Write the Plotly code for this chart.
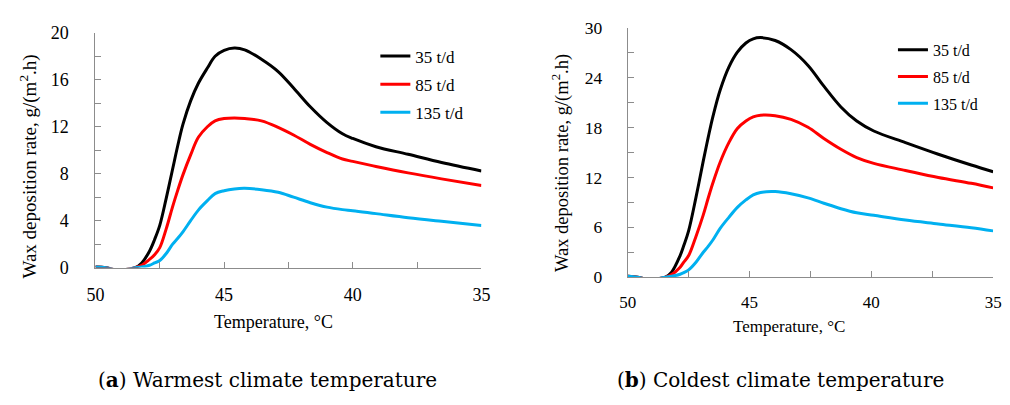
import plotly.graph_objects as go

# ---------------- data ----------------
T_left = [50.0, 49.6, 49.3, 48.8, 48.45, 48.2, 47.9, 47.7, 47.5, 47.25, 47.0, 46.8, 46.6, 46.3,
          46.0, 45.65, 45.35, 45.0, 44.6, 44.2, 43.55, 42.9, 42.3, 41.65, 41.0, 40.4, 40.0,
          39.1, 37.85, 36.55, 35.0]
left_35 = [0.05, 0.0, -0.15, -0.15, 0.0, 0.4, 1.4, 2.4, 3.6, 5.9, 8.4, 10.4, 12.2, 14.2,
           15.7, 17.0, 18.0, 18.5, 18.7, 18.55, 17.75, 16.7, 15.3, 13.7, 12.35, 11.4, 11.0,
           10.3, 9.65, 8.95, 8.23]
left_85 = [0.05, 0.0, -0.15, -0.15, 0.0, 0.2, 0.7, 1.1, 1.7, 3.3, 5.2, 6.6, 7.9, 9.6,
           11.1, 12.0, 12.5, 12.7, 12.75, 12.7, 12.5, 11.95, 11.3, 10.5, 9.8, 9.25, 9.05,
           8.62, 8.07, 7.56, 7.0]
left_135 = [0.05, 0.0, -0.15, -0.15, 0.0, 0.05, 0.2, 0.4, 0.6, 1.2, 2.0, 2.5, 3.05, 4.0,
            4.9, 5.7, 6.3, 6.55, 6.7, 6.75, 6.64, 6.42, 6.0, 5.53, 5.15, 4.94, 4.85,
            4.6, 4.25, 3.94, 3.59]

T_right = [50.0, 49.6, 49.3, 48.8, 48.45, 48.2, 47.85, 47.7, 47.5, 47.2, 46.9, 46.7, 46.5, 46.2,
           45.85, 45.5, 45.15, 44.85, 44.55, 43.95, 43.3, 42.6, 41.95, 41.25, 40.6, 39.9,
           38.6, 37.25, 35.9, 35.0]
right_35 = [0.1, 0.0, -0.2, -0.2, 0.0, 0.6, 2.6, 3.8, 5.6, 9.6, 14.0, 16.8, 19.4, 22.6,
            25.3, 27.1, 28.2, 28.7, 28.85, 28.5, 27.4, 25.5, 23.0, 20.5, 18.8, 17.6,
            16.2, 14.8, 13.5, 12.7]
right_85 = [0.1, 0.0, -0.2, -0.2, 0.0, 0.3, 1.2, 1.8, 2.6, 4.9, 7.5, 9.5, 11.4, 13.9,
            16.2, 17.9, 18.8, 19.3, 19.5, 19.45, 19.0, 18.05, 16.7, 15.4, 14.4, 13.7,
            12.85, 12.0, 11.3, 10.75]
right_135 = [0.1, 0.0, -0.2, -0.2, 0.0, 0.1, 0.35, 0.55, 0.88, 1.8, 3.0, 3.7, 4.5, 5.9,
             7.2, 8.4, 9.3, 9.9, 10.2, 10.3, 10.04, 9.54, 8.9, 8.24, 7.75, 7.44,
             6.87, 6.41, 5.95, 5.57]

series_names = ["35 t/d", "85 t/d", "135 t/d"]
series_colors = ["#000000", "#FF0000", "#00B0F0"]

x_major = [50, 45, 40, 35]
x_minor = [47.5, 42.5, 37.5]
yl_major = [0, 4, 8, 12, 16, 20]
yl_minor = [2, 6, 10, 14, 18]
yr_major = [0, 6, 12, 18, 24, 30]
yr_minor = [3, 9, 15, 21, 27]

x_title = "Temperature, °C"
y_title = "Wax deposition rate, g/(m<sup>2</sup>.h)"
caption_a = "(<b>a</b>) Warmest climate temperature"
caption_b = "(<b>b</b>) Coldest climate temperature"

W, H = 1010, 405
FONT = "Liberation Serif, Times New Roman, Tinos, serif"
CAP_FONT = "DejaVu Serif"
AX = "#8c8c8c"

fig = go.Figure()

left_vals = [left_35, left_85, left_135]
right_vals = [right_35, right_85, right_135]
for i in range(3):
    fig.add_trace(go.Scatter(x=T_left, y=left_vals[i], mode="lines", name=series_names[i],
                             line=dict(color=series_colors[i], width=3, shape="spline", smoothing=1.0),
                             xaxis="x", yaxis="y", legend="legend", legendgroup="l%d" % i))
for i in range(3):
    fig.add_trace(go.Scatter(x=T_right, y=right_vals[i], mode="lines", name=series_names[i],
                             line=dict(color=series_colors[i], width=3, shape="spline", smoothing=1.0),
                             xaxis="x2", yaxis="y2", legend="legend2", legendgroup="r%d" % i))

def minor(vals):
    return dict(tickvals=vals, ticks="inside", ticklen=6, tickcolor=AX, showgrid=False)

def xaxis(domain, anchor, size, standoff):
    return dict(domain=domain, anchor=anchor, range=[50, 35], tickvals=x_major,
                minor=minor(x_minor),
                showline=True, linecolor=AX, linewidth=1, ticks="inside", ticklen=6, tickcolor=AX,
                showgrid=False, zeroline=False, tickfont=dict(family=FONT, size=size, color="#000"),
                ticklabelstandoff=standoff)

def yaxis(domain, anchor, rng, major, mnr, size, standoff):
    return dict(domain=domain, anchor=anchor, range=rng, tickvals=major, minor=minor(mnr),
                showline=True, linecolor=AX, linewidth=1, ticks="inside", ticklen=6, tickcolor=AX,
                showgrid=False, zeroline=False, tickfont=dict(family=FONT, size=size, color="#000"),
                ticklabelstandoff=standoff)

fig.update_layout(
    width=W, height=H, margin=dict(l=0, r=0, t=0, b=0),
    paper_bgcolor="white", plot_bgcolor="white",
    font=dict(family=FONT, color="#000"),
    xaxis=xaxis([88 / W, 481 / W], "y", 18, 11),
    yaxis=yaxis([(H - 271) / H, (H - 24) / H], "x", [0, 20], yl_major, yl_minor, 18, 22),
    xaxis2=xaxis([630 / W, 1002 / W], "y2", 17, 9),
    yaxis2=yaxis([(H - 281) / H, (H - 19) / H], "x2", [0, 30], yr_major, yr_minor, 17.5, 21),
    legend=dict(x=373 / W, y=1 - 30 / H, xanchor="left", yanchor="top", bgcolor="rgba(0,0,0,0)",
                font=dict(family=FONT, size=17, color="#000"), tracegroupgap=3, itemwidth=30),
    legend2=dict(x=900 / W, y=1 - 24 / H, xanchor="left", yanchor="top", bgcolor="rgba(0,0,0,0)",
                 font=dict(family=FONT, size=16, color="#000"), tracegroupgap=3, itemwidth=30),
    showlegend=True,
)

ann = [
    dict(text=y_title, x=20 / W, y=(H - 165) / H, textangle=-90, size=19, family=FONT),
    dict(text=y_title, x=561 / W, y=(H - 161) / H, textangle=-90, size=18.5, family=FONT),
    dict(text=x_title, x=269 / W, y=(H - 328) / H, size=18, family=FONT),
    dict(text=x_title, x=794 / W, y=(H - 333) / H, size=17, family=FONT),
    dict(text=caption_a, x=263 / W, y=(H - 389) / H, size=20, family=CAP_FONT),
    dict(text=caption_b, x=786 / W, y=(H - 389) / H, size=20, family=CAP_FONT),
]
for a in ann:
    size = a.pop("size")
    fam = a.pop("family")
    fig.add_annotation(xref="paper", yref="paper", showarrow=False, xanchor="center", yanchor="middle",
                       font=dict(family=fam, size=size, color="#000"), **a)

fig.write_html("out.html", config={"displayModeBar": False},
               post_script="document.body.style.margin='0px';")
